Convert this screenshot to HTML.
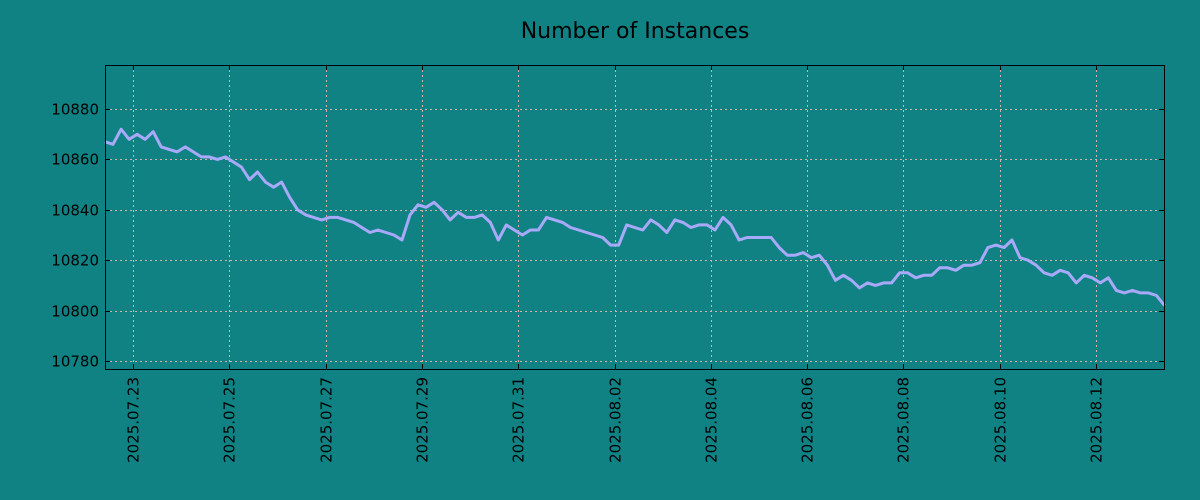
<!DOCTYPE html>
<html><head><meta charset="utf-8"><style>
html,body{margin:0;padding:0;background:#108284;}
svg{display:block;font-family:"DejaVu Sans","Liberation Sans",sans-serif;}
</style></head><body>
<svg id="chart" width="1200" height="500">
<rect width="1200" height="500" fill="#108284"/>
<text x="635" y="38" font-size="22" text-anchor="middle" fill="#000">Number of Instances</text>
<g id="grid"></g>
<g id="ticks"></g>
<path id="line" fill="none" stroke="#a9a9f9" stroke-width="3" stroke-linejoin="round"/>
<rect x="105.5" y="65.5" width="1059" height="304" fill="none" stroke="#000" stroke-width="1"/>
</svg>
<script>
const values=[10867,10866,10872,10868,10870,10868,10871,10865,10864,10863,10865,10863,10861,10861,10860,10861,10859,10857,10852,10855,10851,10849,10851,10845,10840,10838,10837,10836,10837,10837,10836,10835,10833,10831,10832,10831,10830,10828,10838,10842,10841,10843,10840,10836,10839,10837,10837,10838,10835,10828,10834,10832,10830,10832,10832,10837,10836,10835,10833,10832,10831,10830,10829,10826,10826,10834,10833,10832,10836,10834,10831,10836,10835,10833,10834,10834,10832,10837,10834,10828,10829,10829,10829,10829,10825,10822,10822,10823,10821,10822,10818,10812,10814,10812,10809,10811,10810,10811,10811,10815,10815,10813,10814,10814,10817,10817,10816,10818,10818,10819,10825,10826,10825,10828,10821,10820,10818,10815,10814,10816,10815,10811,10814,10813,10811,10813,10808,10807,10808,10807,10807,10806,10802];
const startDay=-0.58; // days relative to 2025.07.23
const stepDay=1/6;
const xTickLabels=["2025.07.23","2025.07.25","2025.07.27","2025.07.29","2025.07.31","2025.08.02","2025.08.04","2025.08.06","2025.08.08","2025.08.10","2025.08.12"];
const yTicks=[10780,10800,10820,10840,10860,10880];
const NS="http://www.w3.org/2000/svg";
const L=105,R=1164,T=65,B=369;
const xMin=-0.58,xMax=21.41,yMin=10776.8,yMax=10897.5;
const X=d=>L+(d-xMin)/(xMax-xMin)*(R-L);
const Y=v=>B-(v-yMin)/(yMax-yMin)*(B-T);
const grid=document.getElementById('grid'),ticks=document.getElementById('ticks');
function mk(tag,attrs,parent){const e=document.createElementNS(NS,tag);for(const k in attrs)e.setAttribute(k,attrs[k]);parent.appendChild(e);return e;}
yTicks.forEach(v=>{
  const y=Math.round(Y(v))+0.5;
  const g=mk('line',{x1:L,x2:R,y1:y,y2:y,stroke:'#d8b0a8','stroke-width':1,'stroke-dasharray':'2,3'},grid);
  
  
  const t1=mk('line',{x1:L,x2:L+5,y1:y,y2:y,stroke:'#000'},ticks);
  
  
  const t2=mk('line',{x1:R-5,x2:R,y1:y,y2:y,stroke:'#000'},ticks);
  
  
  const tx=mk('text',{x:L-6,y:y+5,'font-size':15,'text-anchor':'end',fill:'#000'},ticks);
  tx.textContent=v;
  
  
});
xTickLabels.forEach((lab,i)=>{
  const x=Math.round(X(i*2))+0.5;
  const g=mk('line',{x1:x,x2:x,y1:T,y2:B,stroke:'#d8b0a8','stroke-width':1,'stroke-dasharray':'2,3'},grid);
  
  
  const t1=mk('line',{x1:x,x2:x,y1:B-5,y2:B,stroke:'#000'},ticks);
  
  
  const t2=mk('line',{x1:x,x2:x,y1:T,y2:T+5,stroke:'#000'},ticks);
  
  
  const tx=mk('text',{x:0,y:0,'font-size':15,'text-anchor':'end',fill:'#000',transform:`translate(${x+5},${B+8}) rotate(-90)`},ticks);
  tx.textContent=lab;
  
  
});
let d='';
values.forEach((v,i)=>{d+=(i?'L':'M')+X(startDay+i*stepDay).toFixed(1)+','+Y(v).toFixed(1);});
document.getElementById('line').setAttribute('d',d);
</script>
</body></html>
